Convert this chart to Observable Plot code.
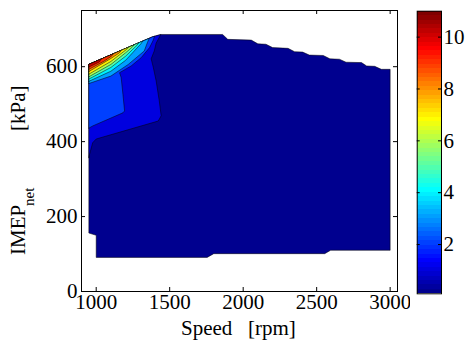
<!DOCTYPE html>
<html><head><meta charset="utf-8">
<script src="https://cdn.jsdelivr.net/npm/d3@7"></script>
<script src="https://cdn.jsdelivr.net/npm/@observablehq/plot@0.6"></script>
<style>
html,body{margin:0;padding:0;background:#fff;}
#chart{position:relative;width:466px;height:344px;overflow:hidden;font-family:"Liberation Serif","Times New Roman",serif;}
#chart svg{position:absolute;top:0;}
</style></head><body><div id="chart"></div>
<script>
// ---- data ----
const valueMin = 0.1, valueMax = 11.0;
const levels = [1, 2, 3, 4, 5, 6, 7, 8, 9, 10];
const xTicks = [1000, 1500, 2000, 2500, 3000];
const yTicks = [0, 200, 400, 600];
const cbTicks = [2, 4, 6, 8, 10];
// operating region boundary (Speed rpm, IMEP kPa)
const topRpm  = [950, 1385, 1440, 1860, 1895, 2055, 2100, 2155, 2200, 2305, 2350, 2405, 2450, 2545, 2590, 2655, 2700, 2805, 2840, 2895, 2940, 3000];
const topImep = [606, 680, 686, 686, 673, 671, 661, 660, 651, 649, 640, 639, 631, 630, 621, 620, 612, 611, 602, 601, 593, 593];
const bottomRpm  = [3000, 2595, 2555, 1800, 1755, 1000, 1000, 950];
const bottomImep = [110, 110, 101, 101, 91, 91, 150, 156];
// contour lines per level, from the left edge to the top boundary
const contourRpm = [
  [950, 952, 976, 1000, 1422, 1442, 1429, 1408, 1388, 1374, 1395, 1408, 1440],
  [950, 977, 1182, 1193, 1182, 1170, 1159, 1238, 1306, 1363, 1386, 1397],
  [950, 1100, 1218, 1327, 1349, 1361],
  [950, 1100, 1200, 1304, 1316],
  [950, 1100, 1200, 1277, 1289],
  [950, 1100, 1200, 1247, 1259],
  [950, 1100, 1206, 1218],
  [950, 1100, 1158, 1170],
  [950, 1050, 1104, 1116],
  [950, 1022, 1034]
];
const contourImep = [
  [357, 362, 397, 407, 455, 469, 509, 562, 599, 621, 642, 663, 686],
  [436, 442, 477, 482, 526, 571, 584, 602, 624, 651, 669, 681.3],
  [555, 575, 606, 642, 665, 675.9],
  [561, 588, 617, 661, 668.3],
  [567, 598, 628, 657, 663.7],
  [573, 606, 637, 653, 658.6],
  [580, 614, 646, 651.6],
  [587, 622, 637, 643.4],
  [593, 614, 628, 634.2],
  [599, 613, 620.3]
];

// ---- MATLAB jet(64) colormap ----
function jetU(p) { return p < 1 || p > 47 ? 0 : p <= 16 ? p / 16 : p <= 31 ? 1 : (48 - p) / 16; }
function jet(t) {
  const k = Math.max(0, Math.min(63, Math.floor(t * 64)));
  const j = k + 1;
  const c = v => Math.round(255 * v);
  return `rgb(${c(jetU(j - 24))},${c(jetU(j - 8))},${c(jetU(j + 8))})`;
}
const colorOpts = {type: "linear", domain: [valueMin, valueMax], interpolate: jet};

// ---- build filled polygons ----
const bands = [];
topRpm.forEach((r, i) => bands.push({level: valueMin, rpm: r, imep: topImep[i]}));
bottomRpm.forEach((r, i) => bands.push({level: valueMin, rpm: r, imep: bottomImep[i]}));
bands.push({level: valueMin, rpm: topRpm[0], imep: topImep[0]});
levels.forEach((L, li) => {
  const rs = contourRpm[li], ys = contourImep[li];
  const tip = rs[rs.length - 1];
  rs.forEach((r, i) => bands.push({level: L, rpm: r, imep: ys[i]}));
  for (let i = topRpm.length - 1; i >= 0; --i)
    if (topRpm[i] < tip) bands.push({level: L, rpm: topRpm[i], imep: topImep[i]});
  bands.push({level: L, rpm: rs[0], imep: ys[0]});
});

const W = 410, H = 344, mL = 81, mR = 13, mT = 10, mB = 53;
const innerW = W - mL - mR, innerH = H - mT - mB;
const serif = '"Liberation Serif","Times New Roman",serif';
const font = {fontFamily: serif, fontSize: "21px", color: "black", background: "transparent"};

const main = Plot.plot({
  width: W, height: H, marginLeft: mL, marginRight: mR, marginTop: mT, marginBottom: mB,
  style: font,
  x: {domain: [900, 3050]},
  y: {domain: [0, 750]},
  color: colorOpts,
  marks: [
    Plot.line(bands, {x: "rpm", y: "imep", z: "level", fill: "level", stroke: "black", strokeWidth: 0.5, strokeLinejoin: "miter"}),
    Plot.tickX(xTicks, {x: d => d, insetTop: innerH - 4, stroke: "black"}),
    Plot.tickX(xTicks, {x: d => d, insetBottom: innerH - 4, stroke: "black"}),
    Plot.tickY(yTicks, {y: d => d, insetRight: innerW - 4, stroke: "black"}),
    Plot.tickY(yTicks, {y: d => d, insetLeft: innerW - 4, stroke: "black"}),
    Plot.axisX({ticks: xTicks, tickSize: 0, tickPadding: 3, tickFormat: d => String(d), label: null, fontFamily: serif, fontSize: 21, fill: "black"}),
    Plot.axisY({ticks: yTicks, tickSize: 0, tickPadding: 4, tickFormat: d => String(d), label: null, fontFamily: serif, fontSize: 21, fill: "black"}),
    Plot.frame({stroke: "black", strokeWidth: 1})
  ]
});
main.style.left = "0px";

const steps = d3.range(64).map(i => ({
  y1: valueMin + i * (valueMax - valueMin) / 64,
  y2: valueMin + (i + 1) * (valueMax - valueMin) / 64
}));
const cbW = 56, cbL = 6.7, cbR = 25;
const cbInner = cbW - cbL - cbR;
const bar = Plot.plot({
  width: cbW, height: H, marginLeft: cbL, marginRight: cbR, marginTop: 10.7, marginBottom: 50.7,
  style: font,
  x: {domain: [0, 1], axis: null},
  y: {domain: [valueMin, valueMax], axis: null},
  color: colorOpts,
  marks: [
    Plot.rect(steps, {x1: 0, x2: 1, y1: "y1", y2: "y2", fill: d => (d.y1 + d.y2) / 2, shapeRendering: "crispEdges"}),
    Plot.tickY(cbTicks, {y: d => d, insetRight: cbInner - 3, stroke: "black"}),
    Plot.tickY(cbTicks, {y: d => d, insetLeft: cbInner - 3, stroke: "black"}),
    Plot.axisY({anchor: "right", ticks: cbTicks, tickSize: 0, tickPadding: 2, tickFormat: d => String(d), label: null, fontFamily: serif, fontSize: 21, fill: "black"}),
    Plot.frame({stroke: "black", strokeWidth: 1})
  ]
});
bar.style.left = "410px";

const root = document.getElementById("chart");
root.appendChild(main);
root.appendChild(bar);

// axis titles
const svg = d3.select(main);
const xl = svg.append("text").attr("y", 335).attr("font-size", 21).attr("font-family", serif).attr("fill", "black").attr("text-anchor", "start");
xl.append("tspan").attr("x", 181).text("Speed");
xl.append("tspan").attr("x", 248).text("[rpm]");
const yl = svg.append("text").attr("transform", "translate(25,0) rotate(-90)").attr("font-size", 21).attr("font-family", serif).attr("fill", "black").attr("text-anchor", "start");
yl.append("tspan").attr("x", -255).attr("y", 0).text("IMEP");
yl.append("tspan").attr("x", -206).attr("y", 9).attr("font-size", 15).text("net");
yl.append("tspan").attr("x", -131).attr("y", 0).text("[kPa]");
</script></body></html>
